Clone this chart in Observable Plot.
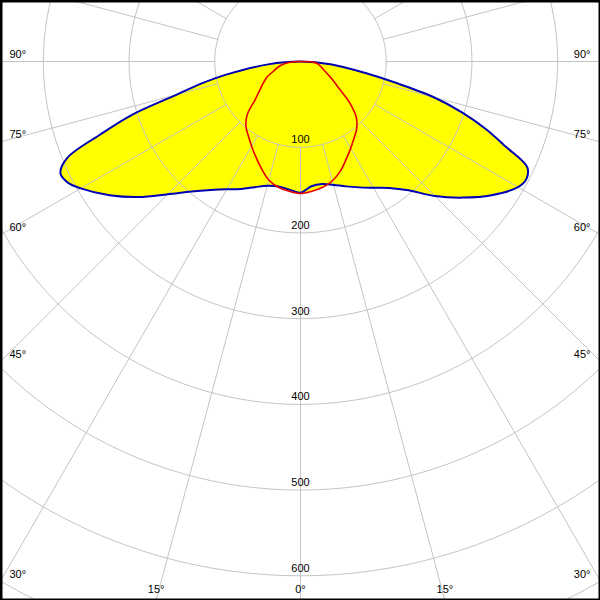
<!DOCTYPE html>
<html><head><meta charset="utf-8">
<script src="https://cdn.jsdelivr.net/npm/d3@7"></script>
<script src="https://cdn.jsdelivr.net/npm/@observablehq/plot@0.6"></script>
<style>html,body{margin:0;padding:0;background:#fff;overflow:hidden}</style>
</head><body><div id="chart"></div>
<script>
// Luminous intensity (cd) by gamma angle (deg from nadir)
const gammaBlue = [0,5,10,15,20,25,30,35,40,45,50,55,60,62.5,65,67.5,70,72.5,75,77.5,80,85,90];
const blueC0   = [153,146,145,149,155,162,170,180,196,222,247,272,293,297,292,259,230,198,161,112,77,35,0];   // right half
const blueC180 = [153,150,148,150,156,164,172,183,198,219,246,272,296,306,309,295,248,205,150,118,88,38,0];   // left half
const gammaRed = [0,5,10,15,20,25,30,35,40,45,50,55,60,65,70,75,80,85,90];
const redC90   = [154,152,149,144,136,126,117,109,102,92,75,55,44,35,29,25,22,18,0];   // right half
const redC270  = [154,152,149,143,133,123,114,106,99,88,69,58,50,43,34,28,22,14,0];    // left half

const ringValues = [100,200,300,400,500,600,700];
const ringLabels = ["100","200","300","400","500","600"];
const spokeStep = 15;
const angleLabels = [0,15,30,45,60,75,90];

const rad = d => d * Math.PI / 180;
function polygon(g, right, left) {
  const pts = [];
  for (let i = g.length - 1; i >= 0; i--) pts.push({x: right[i] * Math.sin(rad(g[i])), y: right[i] * Math.cos(rad(g[i]))});
  for (let i = 1; i < g.length; i++) pts.push({x: -left[i] * Math.sin(rad(g[i])), y: left[i] * Math.cos(rad(g[i]))});
  // drop consecutive duplicates (incl. wrap-around)
  return pts.filter((p, i) => {
    const q = pts[(i + 1) % pts.length];
    return Math.hypot(p.x - q.x, p.y - q.y) > 1e-6;
  });
}
const bluePts = polygon(gammaBlue, blueC0, blueC180);
const redPts = polygon(gammaRed, redC90, redC270);

const X = 350, Y0 = -71.2, Y = 628.8;
const rings = [];
for (const r of ringValues) for (let a = 0; a <= 360; a += 2) rings.push({r, x: r * Math.sin(rad(a)), y: r * Math.cos(rad(a))});
const spokes = [];
for (let a = 0; a < 360; a += spokeStep) for (const r of [100, 1000]) spokes.push({a, x: r * Math.sin(rad(a)), y: r * Math.cos(rad(a))});

const ringText = ringLabels.map(t => ({t, x: 0, y: +t}));
const angText = [];
for (const g of angleLabels) {
  const sides = g === 0 ? [1] : [-1, 1];
  for (const s of sides) {
    const label = g + "°";
    if (g === 0) { angText.push({label, x: 0, y: Y, anchor: "middle", dx: 0, dy: -11}); continue; }
    const yy = X / Math.tan(rad(g));
    if (yy <= Y) angText.push({label, x: s * X, y: yy, anchor: s < 0 ? "start" : "end", dx: s < 0 ? 9 : -10, dy: -7});
    else angText.push({label, x: s * Y * Math.tan(rad(g)), y: Y, anchor: "middle", dx: 0, dy: -11});
  }
}

const grid = "#c4c4c4";
const chart = Plot.plot({
  width: 600, height: 600, margin: 0,
  x: {domain: [-X, X], range: [0, 600], axis: null},
  y: {domain: [Y0, Y], range: [0, 600], axis: null},
  style: {fontFamily: "'Liberation Sans', Arial, sans-serif", fontSize: "11px", background: "#fff", overflow: "hidden"},
  marks: [
    Plot.line(bluePts, {x: "x", y: "y", fill: "#ffff00", stroke: "none", curve: "catmull-rom-closed"}),
    Plot.line(redPts, {x: "x", y: "y", fill: "#ffff00", stroke: "none", curve: "catmull-rom-closed"}),
    Plot.line(rings, {x: "x", y: "y", z: "r", stroke: grid, strokeWidth: 1}),
    Plot.line(spokes, {x: "x", y: "y", z: "a", stroke: grid, strokeWidth: 1}),
    Plot.line(bluePts, {x: "x", y: "y", stroke: "#0000b4", strokeWidth: 2, curve: "catmull-rom-closed"}),
    Plot.line(redPts, {x: "x", y: "y", stroke: "#e60000", strokeWidth: 1.6, curve: "catmull-rom-closed"}),
    Plot.text(ringText, {x: "x", y: "y", text: "t", dy: -7.5, fill: "black", fontSize: 11}),
    ...angText.map(d => Plot.text([d], {x: "x", y: "y", text: "label", textAnchor: d.anchor, dx: d.dx, dy: d.dy, fill: "black", fontSize: 11})),
    Plot.frame({stroke: "black", strokeWidth: 4})
  ]
});
document.getElementById("chart").appendChild(chart);
</script>
</body></html>
